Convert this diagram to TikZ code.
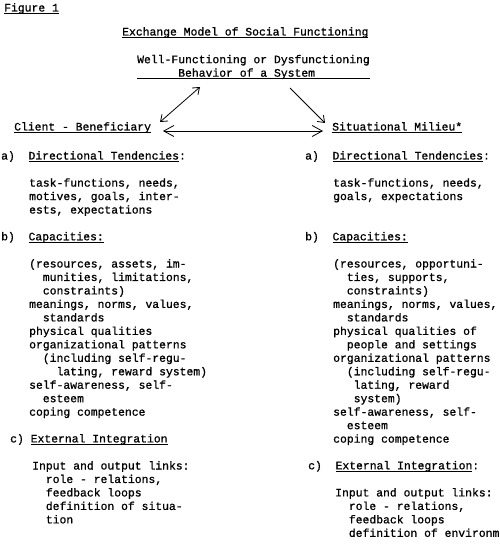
\documentclass[tikz,border=0pt]{standalone}
\usepackage{fontspec}
\usepackage{xcolor}
\usetikzlibrary{arrows.meta,calc,positioning}
\newfontfamily\tw[FakeBold=0.9]{Liberation Mono}
\newcommand\ulx[1]{\setbox0\hbox{#1}\rlap{\rule[-2.6bp]{\wd0}{0.8bp}}\box0}
\newcommand\ii{\phantom{xx}}

\begin{document}
\begin{tikzpicture}[x=1bp,y=-1bp]
		\tikzstyle{every node}=[font=\tw\fontsize{11.4bp}{13.47bp}\selectfont, inner sep=0pt, anchor=base west]
		\tikzstyle{blk}=[align=left, anchor=north west, yshift=9.43bp]
		\useasboundingbox (0,0) rectangle (500,547);
		\clip (0,0) rectangle (500,547);
		\node (fig) at (4,11.5) {\ulx{Figure 1}};
		\node (title) at (122,35.5) {\ulx{Exchange Model of Social Functioning}};
		\node [blk] (beh) at (137,63) {\strut Well-Functioning or Dysfunctioning\\\ulx{\phantom{xxxxxx}Behavior of a System\phantom{xxxxxxxx}}};
		\node (cli) at (14,130.5) {\ulx{Client - Beneficiary}};
		\node (mil) at (332,130.5) {\ulx{Situational Milieu*}};
		\coordinate (beh-l) at (200,87);
		\coordinate (beh-r) at (290,88);
		\coordinate (cli-up) at (160,122);
		\coordinate (cli-r) at (163,131);
		\coordinate (mil-up) at (325,123);
		\coordinate (mil-l) at (323,131);
		\draw [line width=0.8bp, <->, >={Straight Barb[length=6bp,width=9bp]}] (beh-l) -- (cli-up);
		\draw [line width=0.8bp, ->, >={Straight Barb[length=6bp,width=9bp]}] (beh-r) -- (mil-up);
		\draw [line width=0.8bp, <->, >={Straight Barb[length=10bp,width=11bp]}] (cli-r) -- (mil-l);
		\node (la) at (1,159.5) {a)\ \ \ulx{Directional Tendencies}:};
		\node [blk] (latxt) at (29,186.4) {\strut task-functions, needs,\\motives, goals, inter-\\ests, expectations};
		\node (lb) at (1,240.3) {b)\ \ \ulx{Capacities:}};
		\node [blk] (lbtxt) at (29,267.3) {\strut (resources, assets, im-\\\ii munities, limitations,\\\ii constraints)\\meanings, norms, values,\\\ii standards\\physical qualities\\organizational patterns\\\ii (including self-regu-\\\ii\ii lating, reward system)\\self-awareness, self-\\\ii esteem\\coping competence};
		\node (lc) at (10,442.4) {c)\ \ulx{External Integration}};
		\node [blk] (lctxt) at (32,469.3) {\strut Input and output links:\\\ii role - relations,\\\ii feedback loops\\\ii definition of situa-\\\ii tion};
		\node (ra) at (305,159.5) {a)\ \ \ulx{Directional Tendencies}:};
		\node [blk] (ratxt) at (333,186.4) {\strut task-functions, needs,\\goals, expectations};
		\node (rb) at (305,240.3) {b)\ \ \ulx{Capacities:}};
		\node [blk] (rbtxt) at (333,267.3) {\strut (resources, opportuni-\\\ii ties, supports,\\\ii constraints)\\meanings, norms, values,\\\ii standards\\physical qualities of\\\ii people and settings\\organizational patterns\\\ii (including self-regu-\\\ii\phantom{x}lating, reward\\\ii\phantom{x}system)\\self-awareness, self-\\\ii esteem\\coping competence};
		\node (rc) at (308,469.3) {c)\ \ \ulx{External Integration}:};
		\node [blk] (rctxt) at (335,496.2) {\strut Input and output links:\\\ii role - relations,\\\ii feedback loops\\\ii definition of environment};
	\end{tikzpicture}
\end{document}
